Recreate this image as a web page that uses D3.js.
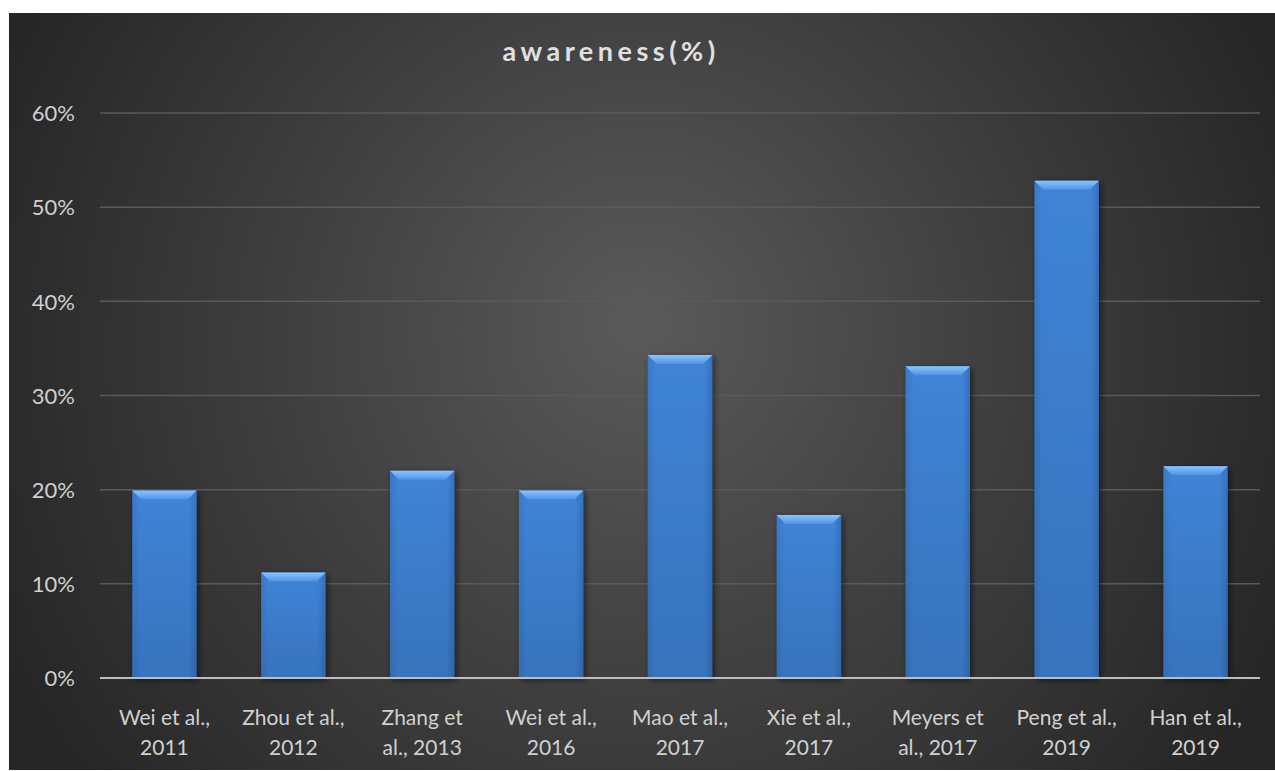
<!DOCTYPE html>
<html>
<head>
<meta charset="utf-8">
<script src="https://cdn.jsdelivr.net/npm/d3@7"></script>
<style>
  html, body { margin: 0; padding: 0; background: #ffffff; }
  svg { display: block; }
  text { font-family: Lato, "Open Sans", "Liberation Sans", sans-serif; }
</style>
</head>
<body>
<svg id="chart" width="1275" height="771"></svg>
<script>
// Survey results: share of respondents aware of the topic, by study
const studies = [
  ["Wei et al.,", "2011"],
  ["Zhou et al.,", "2012"],
  ["Zhang et", "al., 2013"],
  ["Wei et al.,", "2016"],
  ["Mao et al.,", "2017"],
  ["Xie et al.,", "2017"],
  ["Meyers et", "al., 2017"],
  ["Peng et al.,", "2019"],
  ["Han et al.,", "2019"]
];
const awareness = [0.199, 0.112, 0.220, 0.199, 0.343, 0.173, 0.331, 0.528, 0.225];
const yTicks = [0, 0.1, 0.2, 0.3, 0.4, 0.5, 0.6];
const chartTitle = "awareness(%)";

const svg = d3.select("#chart");
const W = 1275, H = 771;
const frame = { x: 9, y: 13, w: W - 9, h: H - 14 };
const margin = { left: 100, right: 15, top: 113, bottom: H - 678 };

const defs = svg.append("defs");

// Dark backdrop with a soft lighter centre
const bg = defs.append("radialGradient").attr("id", "bgGrad")
  .attr("gradientUnits", "userSpaceOnUse")
  .attr("cx", 640).attr("cy", 360).attr("r", 700)
  .attr("fx", 640).attr("fy", 320);
bg.append("stop").attr("offset", "0%").attr("stop-color", "#5a5a5a");
bg.append("stop").attr("offset", "55%").attr("stop-color", "#3d3d3d");
bg.append("stop").attr("offset", "100%").attr("stop-color", "#262626");

// Bar body shading (horizontal) and bevel cap
const body = defs.append("linearGradient").attr("id", "barBody")
  .attr("x1", 0).attr("x2", 1).attr("y1", 0).attr("y2", 0);
body.append("stop").attr("offset", "0%").attr("stop-color", "#3a79c8");
body.append("stop").attr("offset", "12%").attr("stop-color", "#3f83d6");
body.append("stop").attr("offset", "88%").attr("stop-color", "#3f83d6");
body.append("stop").attr("offset", "100%").attr("stop-color", "#3571bd");

const vshade = defs.append("linearGradient").attr("id", "barShade")
  .attr("x1", 0).attr("x2", 0).attr("y1", 0).attr("y2", 1);
vshade.append("stop").attr("offset", "0%").attr("stop-color", "#000").attr("stop-opacity", 0);
vshade.append("stop").attr("offset", "100%").attr("stop-color", "#000").attr("stop-opacity", 0.12);

const cap = defs.append("linearGradient").attr("id", "barCap")
  .attr("x1", 0).attr("x2", 0).attr("y1", 0).attr("y2", 1);
cap.append("stop").attr("offset", "0%").attr("stop-color", "#8cc4ff");
cap.append("stop").attr("offset", "100%").attr("stop-color", "#4e92e4");

const shadow = defs.append("filter").attr("id", "barShadow")
  .attr("x", "-20%").attr("y", "-5%").attr("width", "140%").attr("height", "115%");
shadow.append("feDropShadow").attr("dx", 2).attr("dy", 2).attr("stdDeviation", 3)
  .attr("flood-color", "#000").attr("flood-opacity", 0.55);

svg.append("rect")
  .attr("x", frame.x).attr("y", frame.y)
  .attr("width", frame.w).attr("height", frame.h)
  .attr("fill", "url(#bgGrad)");

const x = d3.scaleBand()
  .domain(d3.range(studies.length))
  .range([margin.left, W - margin.right])
  .paddingInner(0.5).paddingOuter(0.25);

const y = d3.scaleLinear()
  .domain([0, 0.6])
  .range([H - margin.bottom, margin.top]);

// Horizontal gridlines
svg.append("g")
  .selectAll("line")
  .data(yTicks.filter(t => t > 0))
  .join("line")
  .attr("x1", margin.left).attr("x2", W - margin.right)
  .attr("y1", d => y(d)).attr("y2", d => y(d))
  .attr("stroke", "#5a5a5a").attr("stroke-width", 1.5);

// Y axis labels
const yAxis = d3.axisLeft(y).tickValues(yTicks)
  .tickFormat(d3.format(".0%")).tickSize(0).tickPadding(25);
const gy = svg.append("g").attr("transform", `translate(${margin.left},0)`).call(yAxis);
gy.select(".domain").remove();
gy.selectAll("text")
  .attr("fill", "#d0d0d0").attr("font-size", 22).attr("dy", "0.35em");

// Bars
const bars = svg.append("g").selectAll("g")
  .data(awareness)
  .join("g")
  .attr("filter", "url(#barShadow)");

bars.append("rect")
  .attr("x", (d, i) => x(i)).attr("y", d => y(d))
  .attr("width", x.bandwidth())
  .attr("height", d => y(0) - y(d))
  .attr("fill", "url(#barBody)");

bars.append("rect")
  .attr("x", (d, i) => x(i)).attr("y", d => y(d))
  .attr("width", x.bandwidth())
  .attr("height", d => y(0) - y(d))
  .attr("fill", "url(#barShade)");

// Bevelled top edge
bars.append("path")
  .attr("d", (d, i) => {
    const x0 = x(i), x1 = x(i) + x.bandwidth(), t = y(d), b = 9;
    return `M${x0},${t} L${x1},${t} L${x1 - b},${t + b} L${x0 + b},${t + b} Z`;
  })
  .attr("fill", "url(#barCap)");

// Baseline
svg.append("line")
  .attr("x1", margin.left).attr("x2", W - margin.right)
  .attr("y1", y(0)).attr("y2", y(0))
  .attr("stroke", "#bdbdbd").attr("stroke-width", 2);

// Category labels on two lines
const xl = svg.append("g").selectAll("text")
  .data(studies)
  .join("text")
  .attr("x", (d, i) => x(i) + x.bandwidth() / 2)
  .attr("y", y(0) + 47)
  .attr("text-anchor", "middle")
  .attr("fill", "#d0d0d0")
  .attr("font-size", 21);
xl.append("tspan").attr("x", (d, i) => x(i) + x.bandwidth() / 2).text(d => d[0]);
xl.append("tspan").attr("x", (d, i) => x(i) + x.bandwidth() / 2).attr("dy", 30).text(d => d[1]);

// Title
svg.append("text")
  .attr("x", 611).attr("y", 61)
  .attr("text-anchor", "middle")
  .attr("fill", "#e0e0e0")
  .attr("font-size", 27).attr("font-weight", "bold")
  .attr("letter-spacing", 4.5)
  .text(chartTitle);
</script>
</body>
</html>
